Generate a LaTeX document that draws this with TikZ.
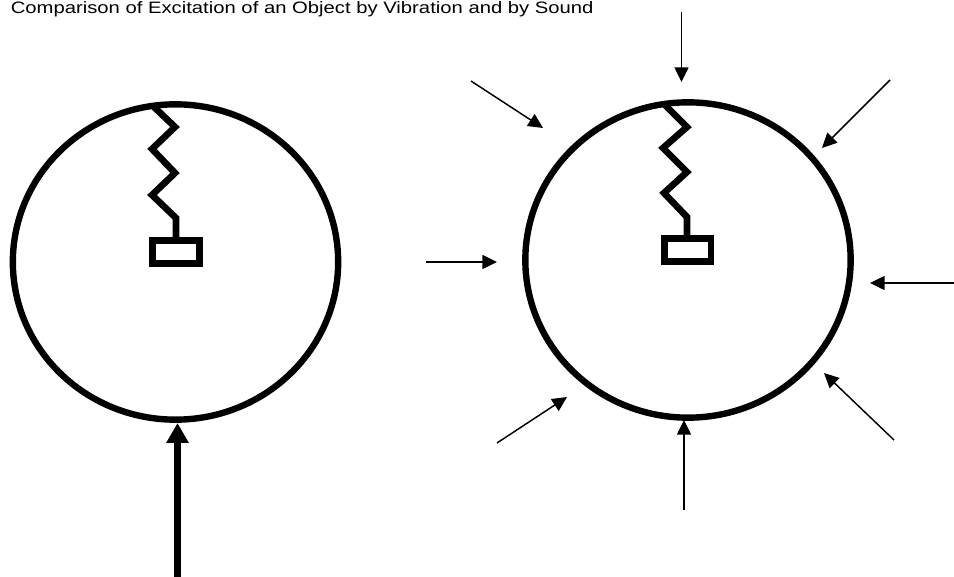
\documentclass[tikz,border=0pt]{standalone}
\usepackage{fontspec}
\setmainfont{Liberation Sans}
\usetikzlibrary{arrows.meta,shapes.geometric}
\tikzset{
  px/.style={x=0.75pt,y=-0.75pt},
  shell/.style={ellipse,draw=black,line width=4.8pt,inner sep=0pt,outer sep=0pt,minimum width=244pt,minimum height=236.5pt},
  coil/.style={draw=black,line width=5pt,line join=miter},
  massbox/.style={rectangle,draw=black,line width=5pt,fill=white,minimum width=35pt,minimum height=17.5pt,inner sep=0pt,outer sep=0pt},
  thinarrow/.style={draw=black,line width=1.1pt,-{Stealth[length=11pt,width=10.5pt,inset=0pt]}},
  thickarrow/.style={draw=black,line width=5pt,-{Stealth[length=15pt,width=16pt,inset=0pt]}},
}
\begin{document}
\begin{tikzpicture}[px]
\useasboundingbox (0,0) rectangle (954,577);
\node[anchor=base west,inner sep=0pt,font=\fontsize{12.4pt}{14pt}\selectfont] (title) at (10.5,13.5) {\scalebox{1.225}[1]{Comparison of Excitation of an Object by Vibration and by Sound}};
% left object
\node[shell] (objL) at (175.5,262) {};
\node[massbox] (massL) at (176,252) {};
\coordinate (sL0) at (153,106);
\draw[coil] (sL0) -- (175,127) -- (152,149) -- (175,173) -- (152,195) -- (176,218) -- (massL.north -| 176,0);
% right object
\node[shell] (objR) at (688,260) {};
\node[massbox] (massR) at (687.5,250) {};
\coordinate (sR0) at (665,105);
\draw[coil] (sR0) -- (687,127) -- (663,148) -- (687,172) -- (664,193) -- (687,217) -- (massR.north -| 687,0);
% vibration arrow
\coordinate (vibTail) at (177.5,577);
\coordinate (vibTip) at (177.5,423);
\draw[thickarrow] (vibTail) -- (vibTip);
% sound arrows
\coordinate (a1) at (681.5,12);  \coordinate (b1) at (681.5,82);
\coordinate (a2) at (890,80);  \coordinate (b2) at (822,148);
\coordinate (a3) at (954,283); \coordinate (b3) at (870,283);
\coordinate (a4) at (894,440); \coordinate (b4) at (824,373);
\coordinate (a5) at (684,510); \coordinate (b5) at (684,420);
\coordinate (a6) at (497,443); \coordinate (b6) at (567,397);
\coordinate (a7) at (426,262); \coordinate (b7) at (497,262);
\coordinate (a8) at (471,81);  \coordinate (b8) at (543,128);
\foreach \i in {1,...,8} \draw[thinarrow] (a\i) -- (b\i);
\end{tikzpicture}
\end{document}
